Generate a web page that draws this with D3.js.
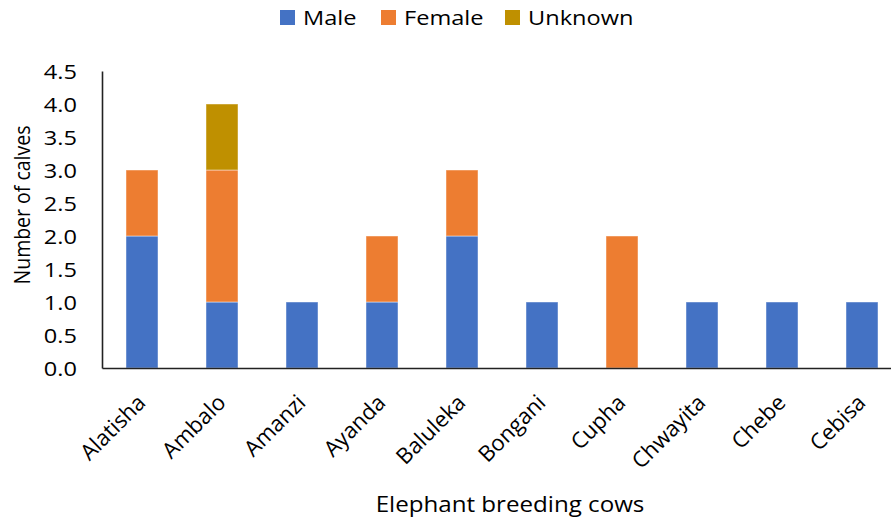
<!DOCTYPE html>
<html><head><meta charset="utf-8">
<script src="https://cdn.jsdelivr.net/npm/d3@7"></script>
<style>body{margin:0;background:#fff}svg{display:block}text{font-family:"Open Sans",sans-serif;fill:#000}</style>
</head><body><svg id="c" width="891" height="521"></svg>
<script>
const categories = ["Alatisha","Ambalo","Amanzi","Ayanda","Baluleka","Bongani","Cupha","Chwayita","Chebe","Cebisa"];
const male =    [2,1,1,1,2,1,0,1,1,1];
const female =  [1,2,0,1,1,0,2,0,0,0];
const unknown = [0,1,0,0,0,0,0,0,0,0];
const seriesNames = ["Male","Female","Unknown"];
const colors = ["#4472C4","#ED7D31","#BF9000"];
const yTicks = [0,0.5,1,1.5,2,2.5,3,3.5,4,4.5];

const SX = 1.15; // horizontal text stretch seen in the reference
const FS = "20.5px";
const svg = d3.select("#c");
const x0 = 102, base = 368, plotTop = 71;
const x = d3.scaleBand().domain(categories).range([x0, x0 + 800]).paddingInner(0.6).paddingOuter(0.3);
const y = d3.scaleLinear().domain([0,4.5]).range([base, plotTop]);

const rows = categories.map((c,i)=>({cat:c, Male:male[i], Female:female[i], Unknown:unknown[i]}));
const stack = d3.stack().keys(seriesNames)(rows);

stack.forEach((s,si)=>{
  svg.append("g").selectAll("rect").data(s.filter(d=>d[1]-d[0]>0)).join("rect")
    .attr("x", d=>x(d.data.cat)).attr("width", x.bandwidth())
    .attr("y", d=>y(d[1])).attr("height", d=>y(d[0])-y(d[1]))
    .attr("fill", colors[si]).attr("stroke","rgba(255,255,255,0.45)").attr("stroke-width",1);
});

// y axis
const ya = svg.append("g").attr("transform",`translate(${x0},0)`)
  .call(d3.axisLeft(y).tickValues(yTicks).tickFormat(d3.format(".1f")).tickSize(0));
ya.select(".domain").attr("stroke","#222").attr("stroke-width",1.6);
ya.selectAll("text").style("font-size",FS).style("font-family","Open Sans")
  .attr("x",0).attr("dy","0.36em").attr("text-anchor","end")
  .attr("transform",`translate(-25,0) scale(${SX},1)`);

// x axis
const xa = svg.append("g").attr("transform",`translate(0,${base})`)
  .call(d3.axisBottom(x).tickSize(0).tickFormat(d=>d));
xa.select(".domain").attr("stroke","#222").attr("stroke-width",1.6);
xa.selectAll("text").style("font-size","22px").style("font-family","Open Sans")
  .attr("text-anchor","end").attr("dy",null).attr("y",0)
  .attr("transform","translate(5,36) rotate(-45)");

// axis titles
svg.append("text").attr("text-anchor","middle")
  .attr("transform",`translate(510,512) scale(${SX},1)`)
  .style("font-size","21px").text("Elephant breeding cows");
svg.append("text").attr("text-anchor","middle")
  .attr("transform",`translate(30,205) scale(${SX},1) rotate(-90)`)
  .style("font-size","19.5px").text("Number of calves");

// legend
const legX = [280, 381, 505];
seriesNames.forEach((n,i)=>{
  svg.append("rect").attr("x",legX[i]).attr("y",10).attr("width",15).attr("height",15).attr("fill",colors[i]);
  svg.append("text").attr("transform",`translate(${legX[i]+23},25) scale(${SX},1)`)
    .style("font-size",FS).text(n);
});
</script></body></html>
